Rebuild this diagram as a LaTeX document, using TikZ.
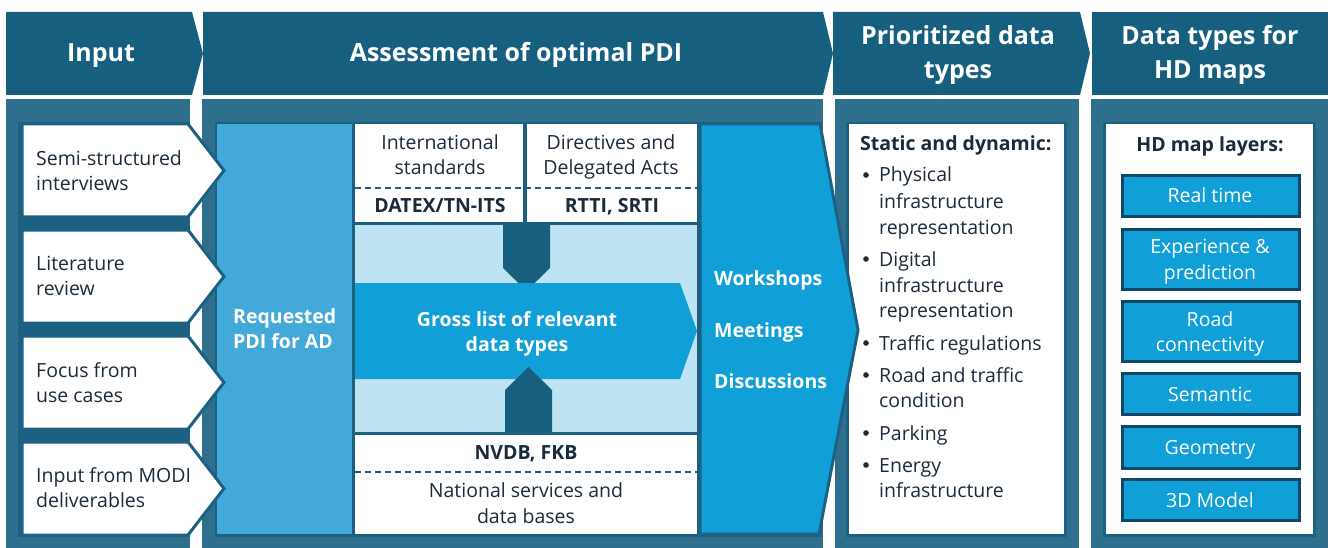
\documentclass[tikz,border=0pt]{standalone}
\usepackage{fontspec}
\setmainfont{Open Sans}
\definecolor{hdrc}{HTML}{175F7F}
\definecolor{panelc}{HTML}{2E6F8D}
\definecolor{darkc}{HTML}{1D6182}
\definecolor{reqc}{HTML}{43A9D8}
\definecolor{brightc}{HTML}{119FD7}
\definecolor{lightc}{HTML}{BEE3F3}
\definecolor{txtc}{HTML}{1B2B3B}
\definecolor{layerline}{HTML}{0E4866}
\begin{document}
\begin{tikzpicture}[x=1pt,y=-1pt,
  hdr/.style={fill=hdrc},
  panel/.style={fill=panelc},
  inner/.style={fill=darkc},
  inbox/.style={fill=white,draw=darkc,line width=3pt,line join=miter},
  layer/.style={fill=brightc,draw=layerline,line width=3pt},
  sep/.style={draw=darkc,line width=1.2pt,dash pattern=on 6pt off 4pt},
  hdrtxt/.style={text=white,font=\fontsize{25}{34}\selectfont\bfseries,inner sep=0pt},
  body/.style={text=txtc,font=\fontsize{19.5}{26}\selectfont,inner sep=0pt},
  bodyb/.style={text=txtc,font=\fontsize{19.5}{26}\selectfont\bfseries,inner sep=0pt},
  wbody/.style={text=white,font=\fontsize{19.5}{26}\selectfont,inner sep=0pt},
  wbodyb/.style={text=white,font=\fontsize{19.5}{26}\selectfont\bfseries,inner sep=0pt}]
\useasboundingbox (0,0) rectangle (1330,548);

% header chevrons
\fill[hdr] (6,12) -- (192,12) -- (203,53.5) -- (192,95) -- (6,95) -- cycle;
\fill[hdr] (203,12) -- (823,12) -- (833,53.5) -- (823,95) -- (203,95) -- cycle;
\fill[hdr] (833,12) -- (1080,12) -- (1090,53.5) -- (1080,95) -- (833,95) -- cycle;
\fill[hdr] (1092,12) rectangle (1328,95);

% column panels
\fill[panel] (6,99) rectangle (190,548);
\fill[panel] (202,99) rectangle (823,548);
\fill[panel] (835,99) rectangle (1079,548);
\fill[panel] (1091,99) rectangle (1328,548);

% inner frames
\fill[inner] (18,122) rectangle (190,537);
\fill[inner] (215,122) rectangle (822,537);
\fill[inner] (846,122) rectangle (1067,537);
\fill[inner] (1103,122) rectangle (1316,537);

% assessment content
\fill[reqc] (217,124) rectangle (352,534);
\fill[white] (355,124) rectangle (523,222);
\fill[white] (527,124) rectangle (697,222);
\draw[sep] (355,188) -- (697,188);
\fill[lightc] (355,225) rectangle (697,432);
\fill[white] (355,435) rectangle (697,534);
\draw[sep] (355,472) -- (697,472);
\fill[hdrc] (503,225) -- (550,225) -- (550,268) -- (526.5,291) -- (503,268) -- cycle;
\fill[brightc] (355,283) -- (680,283) -- (697,331) -- (680,379) -- (355,379) -- cycle;
\fill[hdrc] (505,432) -- (552,432) -- (552,390) -- (528.5,367) -- (505,390) -- cycle;

% right-hand white boxes
\fill[white] (849,124) rectangle (1064,534);
\fill[white] (1106,124) rectangle (1313,534);

% input arrows
\foreach \t in {124,230,336,442}{
  \draw[inbox] (22,\t) -- (188,\t) -- (224,{\t+46.5}) -- (188,{\t+93}) -- (22,{\t+93}) -- cycle;
}

% workshops arrow
\draw[fill=brightc,draw=darkc,line width=3pt,line join=miter]
  (700,124) -- (820,124) -- (858,330) -- (819,534) -- (700,534) -- cycle;

% HD map layer boxes
\draw[layer] (1122,176) rectangle (1299,217);
\draw[layer] (1122,229) rectangle (1299,289);
\draw[layer] (1122,301) rectangle (1299,361);
\draw[layer] (1122,373) rectangle (1299,414);
\draw[layer] (1122,426) rectangle (1299,468);
\draw[layer] (1122,479) rectangle (1299,520);

% header texts
\node[hdrtxt,anchor=base] (hInput) at (101,62) {Input};
\node[hdrtxt,anchor=base] (hAssess) at (516,62) {Assessment of optimal PDI};
\node[hdrtxt,anchor=base] (hPrio1) at (958,45) {Prioritized data};
\node[hdrtxt,anchor=base] (hPrio2) at (958,79) {types};
\node[hdrtxt,anchor=base] (hHD1) at (1210,45) {Data types for};
\node[hdrtxt,anchor=base] (hHD2) at (1210,79) {HD maps};

% input texts
\node[body,anchor=base west] (in1a) at (36,166) {Semi-structured};
\node[body,anchor=base west] (in1b) at (36,191) {interviews};
\node[body,anchor=base west] (in2a) at (36,270) {Literature};
\node[body,anchor=base west] (in2b) at (36,295) {review};
\node[body,anchor=base west] (in3a) at (36,377) {Focus from};
\node[body,anchor=base west] (in3b) at (36,402) {use cases};
\node[body,anchor=base west] (in4a) at (36,482) {Input from MODI};
\node[body,anchor=base west] (in4b) at (36,507) {deliverables};

% assessment texts
\node[wbodyb,anchor=base west] (req1) at (233,323) {Requested};
\node[wbodyb,anchor=base west] (req2) at (233,348) {PDI for AD};
\node[body,anchor=base] (int1) at (440,150) {International};
\node[body,anchor=base] (int2) at (440,175) {standards};
\node[bodyb,anchor=base] (int3) at (440,213) {DATEX/TN-ITS};
\node[body,anchor=base] (dir1) at (611,150) {Directives and};
\node[body,anchor=base] (dir2) at (611,175) {Delegated Acts};
\node[bodyb,anchor=base] (dir3) at (612,213) {RTTI, SRTI};
\node[wbodyb,anchor=base] (gross1) at (517,326) {Gross list of relevant};
\node[wbodyb,anchor=base] (gross2) at (517,351) {data types};
\node[bodyb,anchor=base] (nat1) at (526,459) {NVDB, FKB};
\node[body,anchor=base] (nat2) at (526,497) {National services and};
\node[body,anchor=base] (nat3) at (526,523) {data bases};
\node[wbodyb,anchor=base west] (ws1) at (714,285) {Workshops};
\node[wbodyb,anchor=base west] (ws2) at (714,337) {Meetings};
\node[wbodyb,anchor=base west] (ws3) at (714,388) {Discussions};

% prioritized list
\node[bodyb,anchor=base west] (sd) at (860,151) {Static and dynamic:};
\foreach \y in {182,266,350,382,440,472}{
  \fill[txtc] (866,{\y-7}) circle (2.8);
}
\node[body,anchor=base west] (p1) at (879,182) {Physical};
\node[body,anchor=base west] (p2) at (879,208) {infrastructure};
\node[body,anchor=base west] (p3) at (879,234) {representation};
\node[body,anchor=base west] (p4) at (879,266) {Digital};
\node[body,anchor=base west] (p5) at (879,292) {infrastructure};
\node[body,anchor=base west] (p6) at (879,317) {representation};
\node[body,anchor=base west] (p7) at (879,350) {Traffic regulations};
\node[body,anchor=base west] (p8) at (879,382) {Road and traffic};
\node[body,anchor=base west] (p9) at (879,407) {condition};
\node[body,anchor=base west] (p10) at (879,440) {Parking};
\node[body,anchor=base west] (p11) at (879,472) {Energy};
\node[body,anchor=base west] (p12) at (879,497) {infrastructure};

% HD layers
\node[bodyb,anchor=base] (hdl) at (1210,152) {HD map layers:};
\node[wbody,anchor=base] (l1) at (1210,203) {Real time};
\node[wbody,anchor=base] (l2a) at (1210,253) {Experience \&};
\node[wbody,anchor=base] (l2b) at (1210,279) {prediction};
\node[wbody,anchor=base] (l3a) at (1210,326) {Road};
\node[wbody,anchor=base] (l3b) at (1210,351) {connectivity};
\node[wbody,anchor=base] (l4) at (1210,401) {Semantic};
\node[wbody,anchor=base] (l5) at (1210,454) {Geometry};
\node[wbody,anchor=base] (l6) at (1210,507) {3D Model};
\end{tikzpicture}
\end{document}
